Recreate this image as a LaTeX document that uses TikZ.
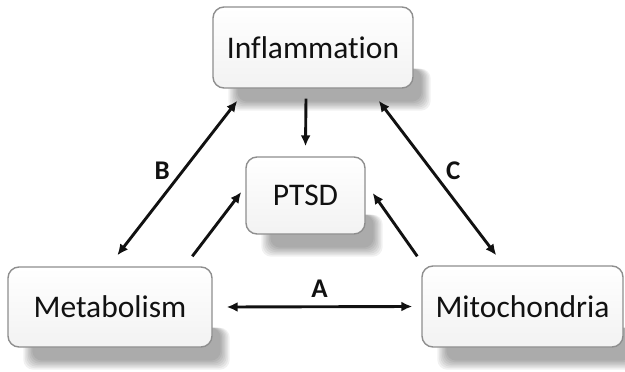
\documentclass[tikz,border=0pt]{standalone}
\usepackage{fontspec}
\setmainfont[Ligatures=NoCommon]{Carlito}
\usetikzlibrary{arrows.meta,backgrounds,positioning}
\definecolor{ink}{HTML}{111111}
\definecolor{rim}{HTML}{8E8E8E}
\tikzset{
  box/.style={rounded corners=11pt,draw=rim,line width=1.4pt,top color=white,bottom color=black!5,font=\fontsize{31.5}{36}\selectfont,text=ink},
  link/.style={-{Latex[length=11pt,width=10pt]},line width=2.9pt,draw=ink},
  both/.style={link,{Latex[length=11pt,width=10pt]}-{Latex[length=11pt,width=10pt]}},
  tag/.style={font=\bfseries\fontsize{27}{30}\selectfont,text=ink,inner sep=0pt}
}

\begin{document}
\begin{tikzpicture}[x=1pt,y=-1pt]
\useasboundingbox (0,0) rectangle (625,372);
\node[box,minimum width=200pt,minimum height=81pt] (infl) at (313,47.5) {Inflammation};
\node[box,minimum width=119pt,minimum height=77pt] (ptsd) at (305.5,195.5) {PTSD};
\node[box,minimum width=204pt,minimum height=80pt] (metab) at (110,307) {Metabolism};
\node[box,minimum width=201pt,minimum height=81pt] (mito) at (522.5,306.5) {Mitochondria};

% soft shadows under the boxes
\begin{scope}[on background layer]
\foreach \n in {infl,ptsd,metab,mito}
  \foreach \s in {0,...,6}
    \fill[black,opacity=.055,rounded corners=10pt] ([xshift={16+1.5*\s},yshift=20]\n.south west) rectangle ([xshift={17-1.5*\s},yshift={-22+1.5*\s}]\n.south east);
\end{scope}

\draw[both] ([xshift=110pt,yshift=11pt]metab.north west) -- node[tag,pos=.55,left=12pt]{B} ([xshift=25pt,yshift=-12pt]infl.south west);
\draw[link] ([xshift=185pt,yshift=10pt]metab.north west) -- ([xshift=-4pt,yshift=3.5pt]ptsd.west);
\draw[both] ([xshift=-35pt,yshift=-12pt]infl.south east) -- node[tag,pos=.45,right=13pt]{C} ([xshift=75pt,yshift=10pt]mito.north west);
\draw[link] ([xshift=-4pt,yshift=9pt]mito.north west) -- ([xshift=7pt,yshift=2.5pt]ptsd.east);
\draw[link] ([xshift=-7pt,yshift=-10pt]infl.south) -- ([yshift=10pt]ptsd.north);
\draw[both] ([xshift=14pt]metab.east) -- node[tag,above=8pt]{A} ([xshift=-9pt]mito.west);
\end{tikzpicture}
\end{document}
